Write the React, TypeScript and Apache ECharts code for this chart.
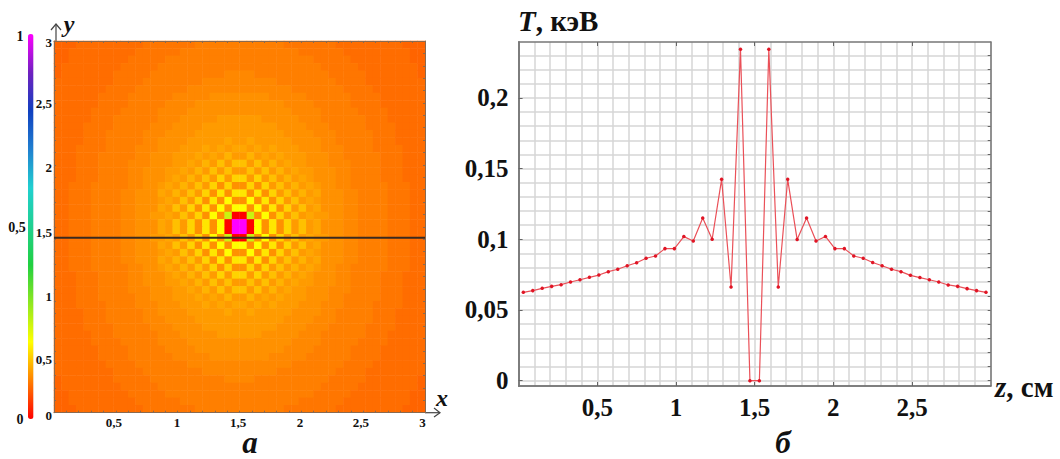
import React, { useEffect, useRef } from "react";
import * as echarts from "echarts";

// Panel "б": temperature profile along z
const zValues = [
  0.03, 0.09, 0.15, 0.21, 0.27, 0.33, 0.39, 0.45, 0.51, 0.57,
  0.63, 0.69, 0.75, 0.81, 0.87, 0.93, 0.99, 1.05, 1.11, 1.17,
  1.23, 1.29, 1.35, 1.41, 1.47, 1.53, 1.59, 1.65, 1.71, 1.77,
  1.83, 1.89, 1.95, 2.01, 2.07, 2.13, 2.19, 2.25, 2.31, 2.37,
  2.43, 2.49, 2.55, 2.61, 2.67, 2.73, 2.79, 2.85, 2.91, 2.97,
];
const tValues = [
  0.0625, 0.0637, 0.0653, 0.0667, 0.0679, 0.0698, 0.0714, 0.0731, 0.0747, 0.0771,
  0.0788, 0.0813, 0.0834, 0.0866, 0.0882, 0.0934, 0.0934, 0.1019, 0.0988, 0.1151,
  0.1000, 0.1424, 0.0663, 0.2344, 0.0, 0.0, 0.2344, 0.0663, 0.1424, 0.0998,
  0.1151, 0.0988, 0.1020, 0.0934, 0.0934, 0.0882, 0.0866, 0.0836, 0.0813, 0.0788,
  0.0771, 0.0745, 0.0729, 0.0714, 0.0698, 0.0677, 0.0667, 0.0651, 0.0637, 0.0625,
];
const zTickValues = [0.5, 1, 1.5, 2, 2.5];
const tTickValues = [0, 0.05, 0.1, 0.15, 0.2];
const tGridValues = [
  0, 0.01, 0.02, 0.03, 0.04, 0.05, 0.06, 0.07, 0.08, 0.09, 0.1, 0.11,
  0.12, 0.13, 0.14, 0.15, 0.16, 0.17, 0.18, 0.19, 0.2, 0.21, 0.22, 0.23,
];

// Panel "а": one quarter of the 50x50 map (top left), read by eye; letters index heatLevels
const heatLevels: Record<string, number> = {
  a: 0.078, b: 0.085, c: 0.092, d: 0.099, e: 0.106, f: 0.113, g: 0.121, h: 0.13,
  i: 0.14, j: 0.15, k: 0.165, l: 0.18, m: 0.2, n: 0.25, o: 0, p: 1,
};
const heatQuarter = [
  "aaabbbbbbbbbcccccccdddddd",
  "aabbbbbbbbbccccccdddddddd",
  "aabbbbbbbbcccccdddddddddd",
  "abbbbbbbbcccccddddddddddd",
  "abbbbbbbcccccddddddddddee",
  "bbbbbbbbccccddddddddeeeee",
  "bbbbbbbccccdddddddeeeeeee",
  "bbbbbbccccddddddeeeeeffff",
  "bbbbbbccccdddddeeeeffffff",
  "bbbbbccccdddddeeeefffffff",
  "bbbbbcccddddddeeefffffggg",
  "bbbbccccdddddeeeffffggggg",
  "bbbbcccdddddeeeffffgggggg",
  "bbbbcccdddddeeffffggggghg",
  "bbbccccddddeeefffggghghgh",
  "bbbcccdddddeefffggghghgig",
  "bbbcccddddeeefffgghgigjgj",
  "bbbcccddddeefffgghgigjgjg",
  "bbbcccddddeefffghgigjgkgk",
  "bbcccdddddeeffghgigjgkfkf",
  "bbcccddddeefffhgigjgkflfl",
  "bbcccddddeefffghgjgkflfmf",
  "bbcccddddeefffhgjgkflfmfm",
  "bbcccddddeeffgghgjgkfmfno",
  "bbcccddddeefffhgjgkflfmop",
];
const colorScale = [
  "#ff0000", "#ff8000", "#ffff00", "#90e820", "#20d040", "#20d090",
  "#20d0d0", "#2080d0", "#1040c0", "#7020c0", "#ff00ff",
];
const cutRowY = 1.413;
const leftTicks = [0, 0.1, 0.2, 0.3, 0.4, 0.5, 0.6, 0.7, 0.8, 0.9, 1, 1.1, 1.2, 1.3, 1.4, 1.5, 1.6, 1.7, 1.8, 1.9, 2, 2.1, 2.2, 2.3, 2.4, 2.5, 2.6, 2.7, 2.8, 2.9, 3];
const xLabelTexts = ["0,5", "1", "1,5", "2", "2,5", "3"];
const xLabelSpots = [0.485, 0.995, 1.488, 1.989, 2.482, 2.98];
const yLabelTexts = ["0", "0,5", "1", "1,5", "2", "2,5", "3"];
const yLabelSpots = [-0.027, 0.429, 0.939, 1.454, 1.988, 2.498, 2.998];

const comma = (v: number) => String(v).replace(".", ",");
const serif = "Liberation Serif";
const cellIds = Array.from({ length: 50 }, (_, i) => String(i));

function textAt(spots: number[], texts: string[]) {
  return (v: number) => {
    let best = 0;
    spots.forEach((s, i) => {
      if (Math.abs(s - v) < Math.abs(spots[best] - v)) best = i;
    });
    return texts[best];
  };
}

function buildHeat() {
  const out: number[][] = [];
  for (let r = 0; r < 50; r++) {
    for (let c = 0; c < 50; c++) {
      const qr = r < 25 ? r : 49 - r;
      const qc = c < 25 ? c : 49 - c;
      out.push([c, 49 - r, heatLevels[heatQuarter[qr][qc]]]);
    }
  }
  return out;
}

const hiddenAxis = { axisLine: { show: false }, axisTick: { show: false }, axisLabel: { show: false }, splitLine: { show: false } };
const leftFrame = { show: true, onZero: false, lineStyle: { color: "#8a6a50", width: 1 } };
const rightFrame = { show: true, onZero: false, lineStyle: { color: "#777777", width: 1.5 } };
const smallLabel = { color: "#111", fontFamily: serif, fontWeight: "bold" as const, fontSize: 13, hideOverlap: false };
const bigLabel = { color: "#111", fontFamily: serif, fontWeight: "bold" as const, fontSize: 25, hideOverlap: false };

function plainText(text: string, x: number, y: number, size: number, style = "normal", align = "center") {
  return {
    type: "text", x, y, silent: true,
    style: { text, fill: "#111", fontFamily: serif, fontWeight: "bold", fontStyle: style, fontSize: size, align, verticalAlign: "middle" },
  };
}
function mixedText(italic: string, rest: string, x: number, y: number, size: number) {
  return {
    type: "text", x, y, silent: true,
    style: {
      text: `{i|${italic}}{b|${rest}}`, align: "left", verticalAlign: "middle",
      rich: {
        i: { fill: "#111", fontFamily: serif, fontWeight: "bold", fontStyle: "italic", fontSize: size },
        b: { fill: "#111", fontFamily: serif, fontWeight: "bold", fontSize: size },
      },
    },
  };
}

export default function App() {
  const ref = useRef<HTMLDivElement>(null);
  useEffect(() => {
    const chart = echarts.init(ref.current!, null, { renderer: "svg" });
    const arrowStyle = { stroke: "#444", lineWidth: 1.2, fill: "none" };
    chart.setOption({
      animation: false,
      backgroundColor: "#fff",
      visualMap: {
        type: "continuous", seriesIndex: 0, dimension: 2, min: 0, max: 1,
        left: 28, top: 34, itemWidth: 5.5, itemHeight: 385, padding: 0,
        calculable: false, realtime: false, showLabel: false, text: null,
        inRange: { color: colorScale },
      },
      grid: [
        { left: 54, right: 635, top: 41, bottom: 46.3 },
        { left: 54, right: 635, top: 41, bottom: 46.3 },
        { left: 54, right: 635, top: 29.6, bottom: 34 },
        { left: 518.6, right: 69.3, top: 42, bottom: 73 },
      ],
      xAxis: [
        { type: "category", gridIndex: 0, data: cellIds, ...hiddenAxis },
        {
          type: "value", gridIndex: 1, min: 0, max: 3, position: "bottom", z: 5,
          axisLine: leftFrame, splitLine: { show: false },
          axisTick: { show: true, inside: true, length: 2, customValues: leftTicks, lineStyle: { color: "#8a6a50" } },
          axisLabel: { ...smallLabel, margin: 3, customValues: xLabelSpots, formatter: textAt(xLabelSpots, xLabelTexts) },
        },
        {
          type: "value", gridIndex: 1, min: 0, max: 3, position: "top", z: 5,
          axisLine: leftFrame, splitLine: { show: false }, axisLabel: { show: false },
          axisTick: { show: true, inside: true, length: 2, customValues: leftTicks, lineStyle: { color: "#8a6a50" } },
        },
        { type: "value", gridIndex: 2, min: 0, max: 3, ...hiddenAxis },
        {
          type: "value", gridIndex: 3, min: 0, max: 3, interval: 0.1, position: "bottom",
          axisLine: rightFrame, axisTick: { show: false },
          splitLine: { show: true, lineStyle: { color: "#d6d6d6", width: 1.5 } },
          axisLabel: { ...bigLabel, margin: 9, customValues: zTickValues, formatter: comma },
        },
        {
          type: "value", gridIndex: 3, min: 0, max: 3, position: "bottom", z: 5,
          axisLine: rightFrame, splitLine: { show: false }, axisLabel: { show: false },
          axisTick: { show: true, inside: true, length: 4, customValues: zTickValues, lineStyle: { color: "#666" } },
        },
        {
          type: "value", gridIndex: 3, min: 0, max: 3, position: "top", z: 5,
          axisLine: rightFrame, splitLine: { show: false }, axisLabel: { show: false },
          axisTick: { show: true, inside: true, length: 4, customValues: zTickValues, lineStyle: { color: "#666" } },
        },
      ],
      yAxis: [
        { type: "category", gridIndex: 0, data: cellIds, ...hiddenAxis },
        {
          type: "value", gridIndex: 1, min: 0, max: 3, position: "left", z: 5,
          axisLine: leftFrame, splitLine: { show: false }, axisLabel: { show: false },
          axisTick: { show: true, inside: true, length: 2, customValues: leftTicks, lineStyle: { color: "#8a6a50" } },
        },
        {
          type: "value", gridIndex: 1, min: 0, max: 3, position: "right", z: 5,
          axisLine: leftFrame, splitLine: { show: false }, axisLabel: { show: false },
          axisTick: { show: true, inside: true, length: 2, customValues: leftTicks, lineStyle: { color: "#8a6a50" } },
        },
        {
          type: "value", gridIndex: 2, min: -0.1, max: 3.1, position: "left",
          axisLine: { show: false }, axisTick: { show: false }, splitLine: { show: false },
          axisLabel: { ...smallLabel, margin: 2, customValues: yLabelSpots, formatter: textAt(yLabelSpots, yLabelTexts) },
        },
        {
          type: "value", gridIndex: 3, min: -0.00375, max: 0.2395, position: "left",
          axisLine: rightFrame, axisLabel: { show: false },
          axisTick: { show: false, customValues: tGridValues },
          splitLine: { show: true, lineStyle: { color: "#d6d6d6", width: 1.5 } },
        },
        {
          type: "value", gridIndex: 3, min: -0.00375, max: 0.2395, position: "left", z: 5,
          axisLine: rightFrame, splitLine: { show: false },
          axisTick: { show: true, inside: true, length: 4, customValues: tTickValues, lineStyle: { color: "#666" } },
          axisLabel: { ...bigLabel, margin: 10, customValues: tTickValues, formatter: comma },
        },
        {
          type: "value", gridIndex: 3, min: -0.00375, max: 0.2395, position: "right", z: 5,
          axisLine: rightFrame, splitLine: { show: false }, axisLabel: { show: false },
          axisTick: { show: true, inside: true, length: 3, customValues: tGridValues, lineStyle: { color: "#666" } },
        },
      ],
      series: [
        {
          type: "heatmap", xAxisIndex: 0, yAxisIndex: 0, data: buildHeat(), progressive: 0,
          itemStyle: { borderWidth: 0 }, emphasis: { disabled: true },
        },
        {
          type: "line", xAxisIndex: 1, yAxisIndex: 1, z: 6, showSymbol: false, symbol: "none",
          data: [[0, cutRowY], [3, cutRowY]], lineStyle: { color: "#3a2a20", width: 2 },
        },
        {
          type: "line", xAxisIndex: 4, yAxisIndex: 4, z: 6,
          data: zValues.map((z, i) => [z, tValues[i]]),
          symbol: "circle", symbolSize: 3.5, showSymbol: true, showAllSymbol: true,
          itemStyle: { color: "#e01525" }, lineStyle: { color: "#ea5058", width: 1.2 },
        },
      ],
      graphic: [
        plainText("1", 20, 36, 14),
        plainText("0,5", 17, 227, 14),
        plainText("0", 20, 419, 14),
        plainText("y", 69, 24, 24, "italic"),
        plainText("x", 442, 398, 24, "italic"),
        plainText("а", 250, 442.5, 31, "italic"),
        plainText("б", 783, 442.5, 31, "italic"),
        mixedText("T", ", кэВ", 518, 21, 29),
        mixedText("z", ", см", 995, 387, 29),
        { type: "polyline", silent: true, shape: { points: [[56, 41], [56, 25]] }, style: arrowStyle },
        { type: "polyline", silent: true, shape: { points: [[51, 30], [56, 24], [61, 30]] }, style: arrowStyle },
        { type: "polyline", silent: true, shape: { points: [[425, 412.7], [440, 412.7]] }, style: arrowStyle },
        { type: "polyline", silent: true, shape: { points: [[434, 408], [440, 412.7], [434, 417]] }, style: arrowStyle },
      ],
    });
    return () => chart.dispose();
  }, []);
  return <div ref={ref} style={{ position: "fixed", left: 0, top: 0, width: 1060, height: 459, background: "#fff" }} />;
}
